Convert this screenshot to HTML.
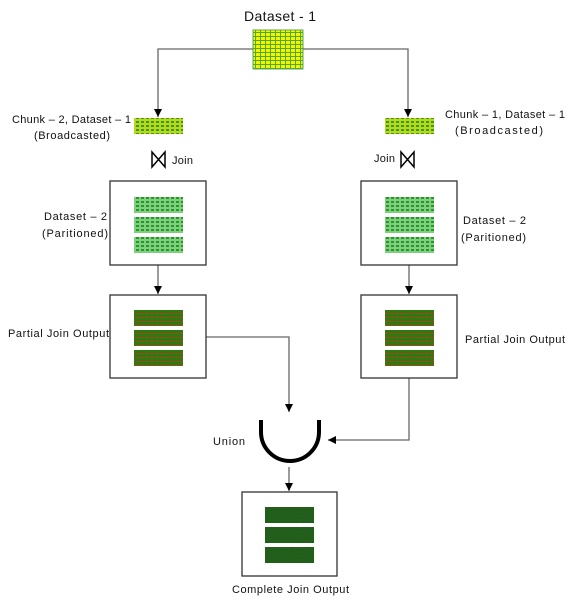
<!DOCTYPE html>
<html><head><style>
body{margin:0;background:#fff}
svg{display:block}
text{font-family:"Liberation Sans",sans-serif;font-size:11px;fill:#111}
</style></head><body>
<svg width="573" height="604" viewBox="0 0 573 604" xmlns="http://www.w3.org/2000/svg">
<defs>
<pattern id="py" width="5" height="4" patternUnits="userSpaceOnUse"><rect width="5" height="4" fill="#50a828"/><rect x="1" y="1" width="4" height="3" fill="#f4f400"/></pattern>
<pattern id="pc" width="5" height="4" patternUnits="userSpaceOnUse"><rect width="5" height="4" fill="#b8d820"/><rect x="1" y="1" width="3" height="2" fill="#3a9a10"/></pattern>
<pattern id="pg" width="5" height="4" patternUnits="userSpaceOnUse"><rect width="5" height="4" fill="#7ed07e"/><rect x="1" y="1" width="3" height="2" fill="#2a962a"/></pattern>
<pattern id="pr" width="5" height="4" patternUnits="userSpaceOnUse"><rect width="5" height="4" fill="#2e7a10"/><rect x="0" y="1" width="4" height="1" fill="#b04020"/></pattern>
<pattern id="pd" width="5" height="4" patternUnits="userSpaceOnUse"><rect width="5" height="4" fill="#2a5a20"/><rect x="1" y="1" width="3" height="2" fill="#0f6a0f"/></pattern>
<marker id="a" markerWidth="10" markerHeight="10" refX="8" refY="4" orient="auto" markerUnits="userSpaceOnUse"><path d="M0,0 L8,4 L0,8 z" fill="#000"/></marker>
</defs>
<text x="244" y="21" textLength="72" style="font-size:14px">Dataset - 1</text>
<rect x="253" y="30" width="50" height="39" fill="url(#py)" stroke="#5a5" stroke-width="1"/>
<g stroke="#666" stroke-width="1.3" fill="none">
<path d="M253,49 H158 V117" marker-end="url(#a)"/>
<path d="M303,49 H408 V117" marker-end="url(#a)"/>
<path d="M158,265 V294" marker-end="url(#a)"/>
<path d="M409,265 V294" marker-end="url(#a)"/>
<path d="M206,337 H289 V412" marker-end="url(#a)"/>
<path d="M409,378 V440 H328" marker-end="url(#a)"/>
<path d="M289,467 V491" marker-end="url(#a)"/>
</g>
<rect x="134" y="118" width="49" height="16" fill="url(#pc)"/>
<rect x="385" y="118" width="49" height="16" fill="url(#pc)"/>
<text x="12" y="123" textLength="119">Chunk – 2, Dataset – 1</text>
<text x="34" y="139" textLength="76">(Broadcasted)</text>
<text x="445" y="118" textLength="120">Chunk – 1, Dataset – 1</text>
<text x="455" y="134" textLength="88">(Broadcasted)</text>
<path d="M152,152 V167 L165,152 V167 Z" fill="none" stroke="#000" stroke-width="1.5"/>
<text x="172" y="164" textLength="21">Join</text>
<path d="M401,152 V167 L414,152 V167 Z" fill="none" stroke="#000" stroke-width="1.5"/>
<text x="374" y="162" textLength="21">Join</text>
<g fill="none" stroke="#333" stroke-width="1.3">
<rect x="110" y="181" width="96" height="84"/>
<rect x="110" y="295" width="96" height="83"/>
<rect x="361" y="181" width="96" height="84"/>
<rect x="361" y="295" width="96" height="83"/>
<rect x="242" y="492" width="95" height="84"/>
</g>
<g fill="url(#pg)">
<rect x="134" y="197" width="49" height="16"/><rect x="134" y="217" width="49" height="16"/><rect x="134" y="237" width="49" height="16"/>
<rect x="385" y="197" width="49" height="16"/><rect x="385" y="217" width="49" height="16"/><rect x="385" y="237" width="49" height="16"/>
</g>
<g fill="url(#pr)">
<rect x="134" y="310" width="49" height="16"/><rect x="134" y="330" width="49" height="16"/><rect x="134" y="350" width="49" height="16"/>
<rect x="385" y="310" width="49" height="16"/><rect x="385" y="330" width="49" height="16"/><rect x="385" y="350" width="49" height="16"/>
</g>
<g fill="url(#pd)">
<rect x="265" y="507" width="49" height="16"/><rect x="265" y="527" width="49" height="16"/><rect x="265" y="547" width="49" height="16"/>
</g>
<text x="44" y="220" textLength="63">Dataset – 2</text>
<text x="42" y="237" textLength="66">(Paritioned)</text>
<text x="463" y="224" textLength="63">Dataset – 2</text>
<text x="461" y="241" textLength="65">(Paritioned)</text>
<text x="8" y="337" textLength="101">Partial Join Output</text>
<text x="465" y="343" textLength="100">Partial Join Output</text>
<path d="M261,420 V432 A28,28 0 0 0 319,432 V420" fill="none" stroke="#000" stroke-width="4"/>
<text x="213" y="445" textLength="32">Union</text>
<text x="232" y="593" textLength="117">Complete Join Output</text>
</svg>
</body></html>
